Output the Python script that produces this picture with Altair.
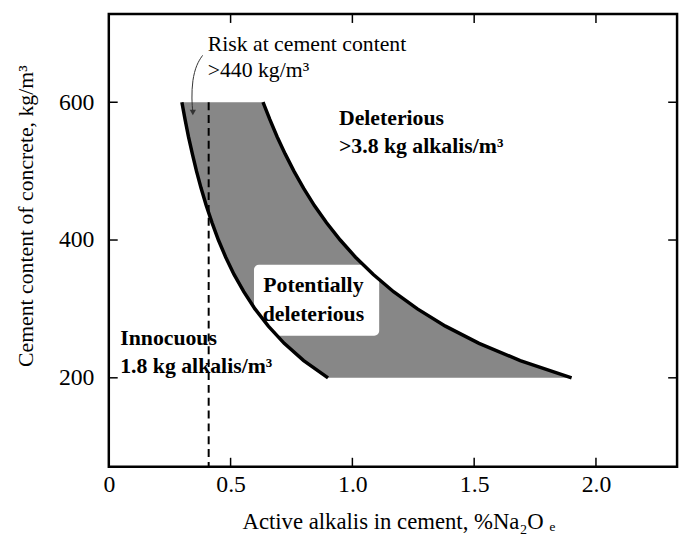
import altair as alt
import pandas as pd

# ---- data ----
cement = [600, 575, 550, 525, 500, 475, 450, 425, 400, 375, 350, 325, 300, 275, 250, 225, 200]
innocuous_alk = [0.300, 0.313, 0.327, 0.343, 0.360, 0.379, 0.400, 0.424, 0.450, 0.480,
                 0.514, 0.554, 0.600, 0.655, 0.720, 0.800, 0.900]
deleterious_alk = [0.633, 0.661, 0.691, 0.724, 0.760, 0.800, 0.844, 0.894, 0.950, 1.013,
                   1.086, 1.169, 1.267, 1.382, 1.520, 1.689, 1.900]

x_tick_values = [0.0, 0.5, 1.0, 1.5, 2.0]
y_tick_values = [200, 400, 600]
inner_x_ticks = [0.5, 1.0, 1.5, 2.0]

risk_alkali = [0.41]
risk_top = [600]

# white label box (Potentially deleterious)
box_x = [0.596]
box_x2 = [1.11]
box_y = [261]
box_y2 = [364]

# arrow path from annotation to region
arrow_x = [0.385, 0.36, 0.343, 0.340, 0.345]
arrow_y = [668, 655, 632, 605, 585]
arrow_order = [1, 2, 3, 4, 5]

normal_text = ["Risk at cement content", ">440 kg/m³"]
normal_x = [0.406, 0.406]
normal_y = [674, 636]

bold_text = ["Deleterious", ">3.8 kg alkalis/m³", "Innocuous", "1.8 kg alkalis/m³"]
bold_x = [0.945, 0.945, 0.047, 0.047]
bold_y = [567, 526, 247, 207]

center_text = ["Potentially", "deleterious"]
center_x = [0.84, 0.84]
center_y = [324, 283]

# ---- build ----
W, H = 575, 458
FONT = "Liberation Serif"
xs = alt.Scale(domain=[0, 2.333], nice=False, zero=False)
ys = alt.Scale(domain=[71, 728], nice=False, zero=False)

curves = pd.DataFrame({"cement": cement, "inn": innocuous_alk, "del": deleterious_alk})

x_axis = alt.Axis(values=x_tick_values, labelExpr="datum.value == 0 ? '0' : format(datum.value, '.1f')",
                  title="Active alkalis in cement, %Na₂O ₑ", grid=False, domain=False, ticks=False,
                  tickSize=0, labelFont=FONT, labelFontSize=24, labelColor="black", labelPadding=6,
                  titleFont=FONT, titleFontSize=23, titleFontWeight="normal", titleColor="black",
                  titleX=293, titleY=63, titleBaseline="alphabetic", labelFlush=False)
y_axis = alt.Axis(values=y_tick_values, title="Cement content of concrete, kg/m³", grid=False,
                  domain=False, ticks=False, tickSize=0, labelFont=FONT, labelFontSize=24,
                  labelColor="black", labelPadding=15, titleFont=FONT, titleFontSize=22,
                  titleFontWeight="normal", titleColor="black", titleX=-77, titleY=204,
                  titleBaseline="alphabetic", labelFlush=False)

area = alt.Chart(curves).mark_area(orient="horizontal", color="#878787", opacity=1).encode(
    y=alt.Y("cement:Q", scale=ys, axis=y_axis),
    x=alt.X("inn:Q", scale=xs, axis=x_axis),
    x2="del:Q",
)

box = alt.Chart(pd.DataFrame({"x": box_x, "x2": box_x2, "y": box_y, "y2": box_y2})).mark_rect(
    color="white", cornerRadius=5).encode(
    x=alt.X("x:Q", scale=xs), x2="x2:Q", y=alt.Y("y:Q", scale=ys), y2="y2:Q")

dash = alt.Chart(pd.DataFrame({"x": risk_alkali, "y": risk_top})).mark_rule(
    color="black", strokeWidth=2, strokeDash=[8, 5]).encode(
    x=alt.X("x:Q", scale=xs), y=alt.Y("y:Q", scale=ys), y2=alt.value(H))

line_inn = alt.Chart(curves).mark_line(color="black", strokeWidth=3.5).encode(
    x=alt.X("inn:Q", scale=xs), y=alt.Y("cement:Q", scale=ys), order="cement:Q")
line_del = alt.Chart(curves).mark_line(color="black", strokeWidth=3.5).encode(
    x=alt.X("del:Q", scale=xs), y=alt.Y("cement:Q", scale=ys), order="cement:Q")

arrow_df = pd.DataFrame({"x": arrow_x, "y": arrow_y, "o": arrow_order})
arrow = alt.Chart(arrow_df).mark_line(color="#333333", strokeWidth=1, interpolate="basis").encode(
    x=alt.X("x:Q", scale=xs), y=alt.Y("y:Q", scale=ys), order="o:Q")
arrow_head = alt.Chart(arrow_df.tail(1)).mark_point(
    shape="triangle-down", filled=True, color="#333333", size=40, opacity=1).encode(
    x=alt.X("x:Q", scale=xs), y=alt.Y("y:Q", scale=ys))

t_norm = alt.Chart(pd.DataFrame({"x": normal_x, "y": normal_y, "t": normal_text})).mark_text(
    font=FONT, fontSize=22, align="left", baseline="alphabetic", color="black").encode(
    x=alt.X("x:Q", scale=xs), y=alt.Y("y:Q", scale=ys), text="t:N")
t_bold = alt.Chart(pd.DataFrame({"x": bold_x, "y": bold_y, "t": bold_text})).mark_text(
    font=FONT, fontSize=22, fontWeight="bold", align="left", baseline="alphabetic", color="black").encode(
    x=alt.X("x:Q", scale=xs), y=alt.Y("y:Q", scale=ys), text="t:N")
t_center = alt.Chart(pd.DataFrame({"x": center_x, "y": center_y, "t": center_text})).mark_text(
    font=FONT, fontSize=22, fontWeight="bold", align="center", baseline="alphabetic", color="black").encode(
    x=alt.X("x:Q", scale=xs), y=alt.Y("y:Q", scale=ys), text="t:N")

xt = pd.DataFrame({"v": inner_x_ticks})
yt = pd.DataFrame({"v": y_tick_values})
tick_b = alt.Chart(xt).mark_rule(color="black", strokeWidth=1.5).encode(
    x=alt.X("v:Q", scale=xs), y=alt.value(H), y2=alt.value(H - 9))
tick_t = alt.Chart(xt).mark_rule(color="black", strokeWidth=1.5).encode(
    x=alt.X("v:Q", scale=xs), y=alt.value(0), y2=alt.value(9))
tick_l = alt.Chart(yt).mark_rule(color="black", strokeWidth=1.5).encode(
    y=alt.Y("v:Q", scale=ys), x=alt.value(0), x2=alt.value(9))
tick_r = alt.Chart(yt).mark_rule(color="black", strokeWidth=1.5).encode(
    y=alt.Y("v:Q", scale=ys), x=alt.value(W), x2=alt.value(W - 9))

chart = alt.layer(area, box, dash, line_inn, line_del, arrow, arrow_head,
                  t_norm, t_bold, t_center, tick_b, tick_t, tick_l, tick_r).properties(
    width=W, height=H, autosize="none",
    padding={"left": 102, "top": 3, "right": 6, "bottom": 66},
    background="white",
).configure_view(stroke="black", strokeWidth=2.5)

chart.save("out.html", embed_options={"renderer": "svg", "actions": False})
